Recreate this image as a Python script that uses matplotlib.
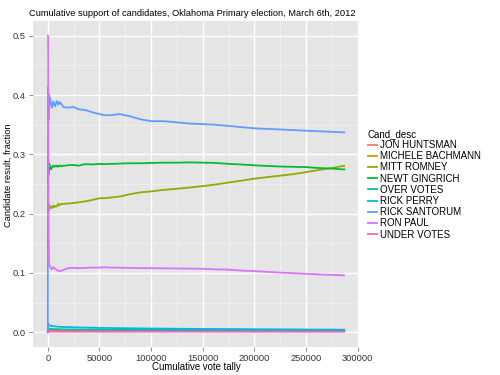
import matplotlib
matplotlib.use("Agg")
import matplotlib.pyplot as plt

plt.rcParams["font.family"] = ["Liberation Sans", "DejaVu Sans"]

# Cumulative tally points (votes counted) for the main candidates
tally = [0, 300, 700, 1200, 2200, 3000, 3900, 4700, 5400, 6200, 7100, 8000,
         8700, 9500, 10300, 11100, 11900, 13500, 15100, 17500, 20000, 24800,
         29700, 36100, 43000, 50000, 55000, 60000, 65000, 70000, 80000, 90000,
         100000, 112000, 125000, 137000, 150000, 162000, 175000, 187000,
         200000, 212000, 225000, 237000, 250000, 262000, 275000, 287000]

santorum = [0.0, 0.414, 0.358, 0.400, 0.394, 0.385, 0.379, 0.386, 0.389, 0.384,
            0.381, 0.386, 0.390, 0.387, 0.384, 0.387, 0.388, 0.384, 0.380, 0.379,
            0.379, 0.380, 0.376, 0.375, 0.371, 0.368, 0.366, 0.366, 0.367, 0.368,
            0.364, 0.359, 0.356, 0.356, 0.354, 0.352, 0.351, 0.350, 0.348, 0.346,
            0.344, 0.343, 0.342, 0.341, 0.340, 0.339, 0.338, 0.337]

gingrich = [0.25, 0.296, 0.266, 0.285, 0.2795, 0.275, 0.277, 0.280, 0.281, 0.279,
            0.280, 0.281, 0.280, 0.279, 0.281, 0.280, 0.281, 0.280, 0.281, 0.281,
            0.282, 0.282, 0.281, 0.2835, 0.283, 0.284, 0.2835, 0.284, 0.284, 0.2845,
            0.285, 0.285, 0.2855, 0.286, 0.286, 0.2865, 0.286, 0.2855, 0.284, 0.283,
            0.2815, 0.2805, 0.2795, 0.279, 0.2785, 0.277, 0.276, 0.2745]

romney = [0.15, 0.218, 0.204, 0.215, 0.212, 0.2095, 0.2095, 0.213, 0.2134, 0.211,
          0.212, 0.213, 0.212, 0.215, 0.2168, 0.214, 0.215, 0.217, 0.216, 0.217,
          0.217, 0.218, 0.219, 0.2207, 0.223, 0.226, 0.226, 0.227, 0.228, 0.229,
          0.233, 0.236, 0.2375, 0.240, 0.242, 0.244, 0.2465, 0.249, 0.2525, 0.2555,
          0.259, 0.2615, 0.264, 0.2665, 0.270, 0.2735, 0.277, 0.2807]

paul = [0.5, 0.5, 0.2, 0.114, 0.111, 0.108, 0.106, 0.108, 0.110, 0.108,
        0.107, 0.106, 0.105, 0.104, 0.103, 0.103, 0.103, 0.104, 0.105, 0.107,
        0.108, 0.1085, 0.108, 0.1085, 0.109, 0.109, 0.1095, 0.109, 0.109, 0.1088,
        0.1085, 0.108, 0.108, 0.1078, 0.1075, 0.1072, 0.107, 0.106, 0.1055, 0.104,
        0.103, 0.1018, 0.1005, 0.0995, 0.0985, 0.0975, 0.0967, 0.0958]

# Minor candidates / ballot categories, on a coarser tally grid
tally_small = [0, 300, 1200, 3000, 6000, 10000, 20000, 50000, 100000, 150000,
               200000, 250000, 287000]
perry = [0.0, 0.015, 0.012, 0.0106, 0.010, 0.0092, 0.0085, 0.0072, 0.0062,
         0.0055, 0.0050, 0.0045, 0.0042]
over_votes = [0.0, 0.006, 0.006, 0.0055, 0.005, 0.0048, 0.0045, 0.0042, 0.004,
              0.0038, 0.0037, 0.0036, 0.0035]
bachmann = [0.0, 0.005, 0.005, 0.0048, 0.0045, 0.0042, 0.004, 0.0037, 0.0035,
            0.0034, 0.0033, 0.0033, 0.0033]
huntsman = [0.0, 0.003, 0.003, 0.003, 0.0028, 0.0027, 0.0026, 0.0025, 0.0025,
            0.0025, 0.0025, 0.0025, 0.0025]
under_votes = [0.0, 0.001, 0.001, 0.001, 0.0009, 0.0009, 0.0008, 0.0008,
               0.0008, 0.0008, 0.0007, 0.0007, 0.0007]

labels = ["JON HUNTSMAN", "MICHELE BACHMANN", "MITT ROMNEY", "NEWT GINGRICH",
          "OVER VOTES", "RICK PERRY", "RICK SANTORUM", "RON PAUL", "UNDER VOTES"]
colors = ["#F8766D", "#D39200", "#93AA00", "#00BA38", "#00C19F",
          "#00B9E3", "#619CFF", "#DB72FB", "#FF61C3"]

series = [
    (tally_small, huntsman),
    (tally_small, bachmann),
    (tally, romney),
    (tally, gingrich),
    (tally_small, over_votes),
    (tally_small, perry),
    (tally, santorum),
    (tally, paul),
    (tally_small, under_votes),
]

fig = plt.figure(figsize=(5, 3.75), dpi=100)
ax = fig.add_axes([33 / 500, 1 - 347 / 375, 326 / 500, 326 / 375])
ax.set_facecolor("#E5E5E5")

for (xs, ys), lab, col in zip(series, labels, colors):
    ax.plot(xs, ys, color=col, lw=1.3, label=lab, solid_joinstyle="round")

ax.set_xlim(-14350, 301350)
ax.set_ylim(-0.025, 0.525)
ax.set_xticks([0, 50000, 100000, 150000, 200000, 250000, 300000])
ax.set_xticklabels(["0", "50000", "100000", "150000", "200000", "250000", "300000"])
ax.set_yticks([0.0, 0.1, 0.2, 0.3, 0.4, 0.5])
ax.set_yticklabels(["0.0", "0.1", "0.2", "0.3", "0.4", "0.5"])
ax.set_xticks([25000, 75000, 125000, 175000, 225000, 275000], minor=True)
ax.set_yticks([0.05, 0.15, 0.25, 0.35, 0.45], minor=True)
ax.grid(which="major", color="white", lw=1.0)
ax.grid(which="minor", color="#F2F2F2", lw=0.6)
ax.set_axisbelow(True)
for s in ax.spines.values():
    s.set_visible(False)
ax.tick_params(which="major", length=3, width=0.6, color="#7F7F7F",
               labelsize=6.7, labelcolor="#333333", pad=2)
ax.tick_params(which="minor", length=0)

ax.set_xlabel("Cumulative vote tally", fontsize=6.9, labelpad=-1)
fig.text(8.5 / 500, 1 - 175 / 375, "Candidate result, fraction", rotation=90,
         ha="center", va="center", fontsize=6.7)
fig.text(192 / 500, 1 - 14 / 375, "Cumulative support of candidates, Oklahoma Primary election, March 6th, 2012",
         ha="center", va="center", fontsize=6.7)

leg = ax.legend(loc="upper left", bbox_to_anchor=(367.5 / 500, 1 - 129 / 375),
                bbox_transform=fig.transFigure, frameon=False, fontsize=7,
                title="Cand_desc", title_fontsize=7, handlelength=1.0,
                handletextpad=0.3, labelspacing=0.12, borderaxespad=0,
                borderpad=0)
leg._legend_box.align = "left"

fig.savefig("out.png", dpi=100)
